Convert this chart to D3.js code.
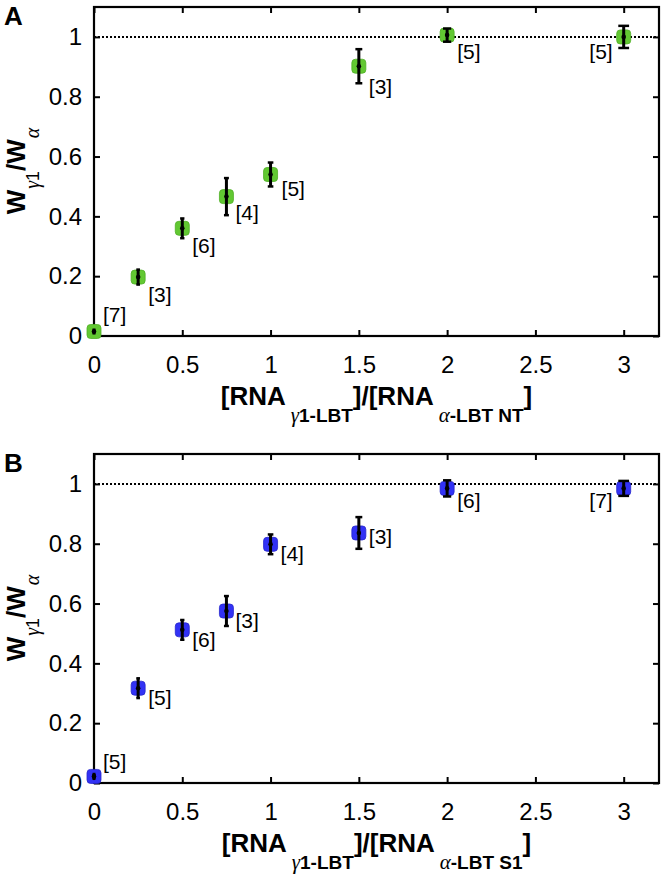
<!DOCTYPE html>
<html>
<head>
<meta charset="utf-8">
<script src="https://cdn.jsdelivr.net/npm/d3@7"></script>
<style>
  html, body { margin: 0; padding: 0; background: #ffffff; }
  svg { display: block; }
</style>
</head>
<body>
<div id="chart"></div>
<script>
// ---------------- data ----------------
const xValues = [0, 0.25, 0.5, 0.75, 1, 1.5, 2, 3];

const ntValues = [0.015, 0.197, 0.360, 0.466, 0.540, 0.902, 1.006, 1.000];
const ntErrors = [0.006, 0.025, 0.033, 0.062, 0.040, 0.057, 0.022, 0.037];
const ntCounts = [7, 3, 6, 4, 5, 3, 5, 5];

const s1Values = [0.022, 0.317, 0.512, 0.575, 0.798, 0.836, 0.985, 0.985];
const s1Errors = [0.008, 0.033, 0.033, 0.050, 0.033, 0.053, 0.027, 0.025];
const s1Counts = [5, 5, 6, 3, 4, 3, 6, 7];

const xTicks = [0, 0.5, 1, 1.5, 2, 2.5, 3];
const xTickLabels = ["0", "0.5", "1", "1.5", "2", "2.5", "3"];
const yTicks = [0, 0.2, 0.4, 0.6, 0.8, 1];
const yTickLabels = ["0", "0.2", "0.4", "0.6", "0.8", "1"];
const referenceLevel = 1;

// ---------------- layout ----------------
const W = 664, H = 874;
const SANS = "'Liberation Sans', Arial, Helvetica, sans-serif";
const SERIF = "'Liberation Serif', 'DejaVu Serif', serif";

// label nudges [dx, dy(baseline)] relative to point centre, px
const ntLabelNudge = [[9,-10],[10,25],[10,25],[9,23],[11,22],[10,28],[10,24],[-11,22]];
const s1LabelNudge = [[9,-7],[10,17],[10,17],[9,17],[10,17],[10,11],[10,20],[-11,20]];

const panels = [
  { letter: "A", top: 7, bottom: 336, color: "#62c832", edge: "#4fae26",
    values: ntValues, errors: ntErrors, counts: ntCounts, nudge: ntLabelNudge,
    denomSub: "-LBT NT", ylabelY: 171 },
  { letter: "B", top: 454, bottom: 783, color: "#3232f5", edge: "#2626cc",
    values: s1Values, errors: s1Errors, counts: s1Counts, nudge: s1LabelNudge,
    denomSub: "-LBT S1", ylabelY: 618 }
];
const left = 94, right = 659;

const svg = d3.select("#chart").append("svg")
  .attr("width", W).attr("height", H)
  .attr("viewBox", `0 0 ${W} ${H}`);

panels.forEach(p => {
  const x = d3.scaleLinear().domain([0, 3.2]).range([left, right]);
  const y = d3.scaleLinear().domain([0, 1.1]).range([p.bottom, p.top]);
  const g = svg.append("g");

  // reference dotted line
  g.append("line")
    .attr("x1", left).attr("x2", right)
    .attr("y1", y(referenceLevel)).attr("y2", y(referenceLevel))
    .attr("stroke", "#000").attr("stroke-width", 2)
    .attr("stroke-dasharray", "2,2");

  // axes
  const fmtX = d => xTickLabels[xTicks.indexOf(d)];
  const fmtY = d => yTickLabels[yTicks.indexOf(d)];
  const styleAxis = sel => {
    sel.select(".domain").remove();
    sel.selectAll(".tick line").attr("stroke", "#000").attr("stroke-width", 2);
    sel.selectAll(".tick text").attr("fill", "#000")
      .style("font-family", SANS).style("font-size", "24px");
  };
  g.append("g").attr("transform", `translate(0,${p.bottom})`)
    .call(d3.axisBottom(x).tickValues(xTicks).tickFormat(fmtX).tickSize(-6).tickPadding(20))
    .call(styleAxis);
  g.append("g").attr("transform", `translate(0,${p.top})`)
    .call(d3.axisTop(x).tickValues(xTicks).tickFormat("").tickSize(-6))
    .call(styleAxis);
  g.append("g").attr("transform", `translate(${left},0)`)
    .call(d3.axisLeft(y).tickValues(yTicks).tickFormat(fmtY).tickSize(-6).tickPadding(12))
    .call(styleAxis);
  g.append("g").attr("transform", `translate(${right},0)`)
    .call(d3.axisRight(y).tickValues(yTicks).tickFormat("").tickSize(-6))
    .call(styleAxis);

  // frame
  g.append("rect")
    .attr("x", left).attr("y", p.top)
    .attr("width", right - left).attr("height", p.bottom - p.top)
    .attr("fill", "none").attr("stroke", "#000").attr("stroke-width", 2.2);

  const pts = xValues.map((xv, i) => ({
    x: xv, v: p.values[i], e: p.errors[i], n: p.counts[i], nudge: p.nudge[i]
  }));

  // markers
  g.selectAll("rect.mk").data(pts).enter().append("rect")
    .attr("class", "mk")
    .attr("x", d => x(d.x) - 7).attr("y", d => y(d.v) - 7)
    .attr("width", 14).attr("height", 14).attr("rx", 3.5)
    .attr("fill", p.color).attr("stroke", p.edge).attr("stroke-width", 0.8);

  // error bars
  const capHalf = d => 1.5 + 1.3 * d.x;
  const eb = g.selectAll("g.eb").data(pts).enter().append("g").attr("class", "eb");
  eb.append("line")
    .attr("x1", d => x(d.x)).attr("x2", d => x(d.x))
    .attr("y1", d => y(d.v - d.e)).attr("y2", d => y(d.v + d.e))
    .attr("stroke", "#000").attr("stroke-width", 3);
  [-1, 1].forEach(s => {
    eb.append("line")
      .attr("x1", d => x(d.x) - capHalf(d)).attr("x2", d => x(d.x) + capHalf(d))
      .attr("y1", d => y(d.v + s * d.e)).attr("y2", d => y(d.v + s * d.e))
      .attr("stroke", "#000").attr("stroke-width", 2.5);
  });
  eb.append("circle")
    .attr("cx", d => x(d.x)).attr("cy", d => y(d.v)).attr("r", 2.3)
    .attr("fill", "#000");

  // n labels
  g.selectAll("text.n").data(pts).enter().append("text")
    .attr("class", "n")
    .attr("x", d => x(d.x) + d.nudge[0])
    .attr("y", d => y(d.v) + d.nudge[1])
    .attr("text-anchor", d => d.nudge[0] < 0 ? "end" : "start")
    .style("font-family", SANS).style("font-size", "21px").attr("fill", "#000")
    .text(d => `[${d.n}]`);

  // panel letter
  svg.append("text")
    .attr("x", 4).attr("y", p.top + 18)
    .style("font-family", SANS).style("font-size", "26px").style("font-weight", "bold")
    .text(p.letter);

  // x label
  const xl = g.append("text")
    .attr("x", (left + right) / 2).attr("y", p.bottom + 69)
    .attr("text-anchor", "middle")
    .style("font-family", SANS).style("font-weight", "bold").style("font-size", "26px")
    .attr("fill", "#000");
  const sh = 17;
  xl.append("tspan").text("[RNA");
  xl.append("tspan").attr("dx", 5).attr("dy", sh)
    .style("font-family", SERIF).style("font-style", "italic").style("font-weight", "normal")
    .style("font-size", "21px").text("γ");
  xl.append("tspan").style("font-size", "19px").text("1-LBT");
  xl.append("tspan").attr("dy", -sh).text("]/[RNA");
  xl.append("tspan").attr("dx", 5).attr("dy", sh)
    .style("font-family", SERIF).style("font-style", "italic").style("font-weight", "normal")
    .style("font-size", "21px").text("α");
  xl.append("tspan").style("font-size", "19px").text(p.denomSub);
  xl.append("tspan").attr("dy", -sh).text("]");

  // y label
  const yl = svg.append("text")
    .attr("transform", `translate(25,${p.ylabelY}) rotate(-90)`)
    .attr("text-anchor", "middle")
    .style("font-family", SANS).style("font-weight", "bold").style("font-size", "26px")
    .attr("fill", "#000");
  const ysh = 14;
  yl.append("tspan").text("W");
  yl.append("tspan").attr("dx", 1).attr("dy", ysh)
    .style("font-family", SERIF).style("font-style", "italic").style("font-weight", "normal")
    .style("font-size", "20px").text("γ");
  yl.append("tspan").style("font-size", "18px").style("font-weight", "normal").text("1");
  yl.append("tspan").attr("dy", -ysh).text("/W");
  yl.append("tspan").attr("dx", 1).attr("dy", ysh)
    .style("font-family", SERIF).style("font-style", "italic").style("font-weight", "normal")
    .style("font-size", "20px").text("α");
});
</script>
</body>
</html>
